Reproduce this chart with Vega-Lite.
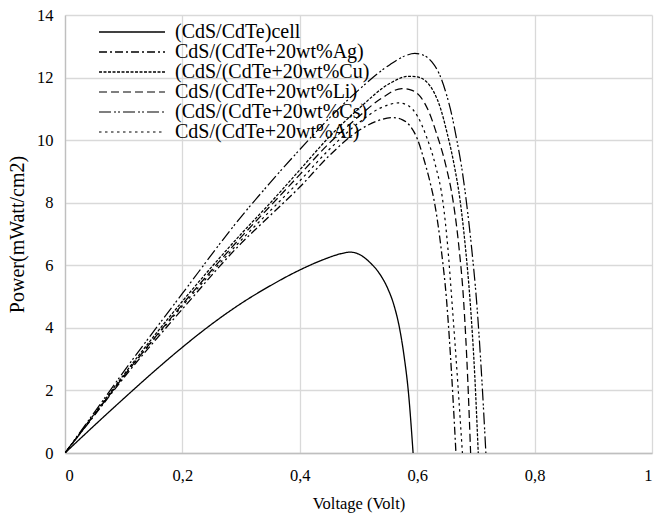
{
  "$schema": "https://vega.github.io/schema/vega-lite/v6.json",
  "width": 587,
  "height": 438,
  "autosize": {"type": "none"},
  "padding": {"left": 65, "top": 15, "right": 5, "bottom": 73},
  "config": {
    "font": "'Liberation Serif', 'DejaVu Serif', serif",
    "view": {"stroke": null},
    "text": {"font": "'Liberation Serif', 'DejaVu Serif', serif"},
    "axis": {
      "labelFont": "'Liberation Serif', 'DejaVu Serif', serif",
      "titleFont": "'Liberation Serif', 'DejaVu Serif', serif",
      "labelFontSize": 16.5,
      "titleFontSize": 16.5,
      "titleFontWeight": "normal",
      "labelColor": "#000000",
      "titleColor": "#000000",
      "gridColor": "#d9d9d9",
      "gridWidth": 1.3,
      "domainColor": "#bfbfbf",
      "domainWidth": 1.3,
      "ticks": false
    },
    "legend": {
      "labelFont": "'Liberation Serif', 'DejaVu Serif', serif",
      "labelFontSize": 20,
      "labelLimit": 0,
      "labelColor": "#000000"
    }
  },
  "data": {
    "values": [
      {"s": "(CdS/CdTe)cell", "v": 0, "p": 0},
      {"s": "(CdS/CdTe)cell", "v": 0.05, "p": 0.88},
      {"s": "(CdS/CdTe)cell", "v": 0.1, "p": 1.74},
      {"s": "(CdS/CdTe)cell", "v": 0.15, "p": 2.58},
      {"s": "(CdS/CdTe)cell", "v": 0.2, "p": 3.38},
      {"s": "(CdS/CdTe)cell", "v": 0.25, "p": 4.12},
      {"s": "(CdS/CdTe)cell", "v": 0.3, "p": 4.78},
      {"s": "(CdS/CdTe)cell", "v": 0.35, "p": 5.35},
      {"s": "(CdS/CdTe)cell", "v": 0.4, "p": 5.85},
      {"s": "(CdS/CdTe)cell", "v": 0.44, "p": 6.18},
      {"s": "(CdS/CdTe)cell", "v": 0.47, "p": 6.37},
      {"s": "(CdS/CdTe)cell", "v": 0.486, "p": 6.42},
      {"s": "(CdS/CdTe)cell", "v": 0.5, "p": 6.36},
      {"s": "(CdS/CdTe)cell", "v": 0.52, "p": 6.08},
      {"s": "(CdS/CdTe)cell", "v": 0.537, "p": 5.7},
      {"s": "(CdS/CdTe)cell", "v": 0.55, "p": 5.25},
      {"s": "(CdS/CdTe)cell", "v": 0.56, "p": 4.75},
      {"s": "(CdS/CdTe)cell", "v": 0.57, "p": 3.98},
      {"s": "(CdS/CdTe)cell", "v": 0.578, "p": 3.05},
      {"s": "(CdS/CdTe)cell", "v": 0.585, "p": 1.95},
      {"s": "(CdS/CdTe)cell", "v": 0.593, "p": 0},

      {"s": "CdS/(CdTe+20wt%Ag)", "v": 0, "p": 0},
      {"s": "CdS/(CdTe+20wt%Ag)", "v": 0.05, "p": 1.2},
      {"s": "CdS/(CdTe+20wt%Ag)", "v": 0.1, "p": 2.4},
      {"s": "CdS/(CdTe+20wt%Ag)", "v": 0.2, "p": 4.6},
      {"s": "CdS/(CdTe+20wt%Ag)", "v": 0.3, "p": 6.7},
      {"s": "CdS/(CdTe+20wt%Ag)", "v": 0.35, "p": 7.6},
      {"s": "CdS/(CdTe+20wt%Ag)", "v": 0.4, "p": 8.5},
      {"s": "CdS/(CdTe+20wt%Ag)", "v": 0.45, "p": 9.5},
      {"s": "CdS/(CdTe+20wt%Ag)", "v": 0.5, "p": 10.3},
      {"s": "CdS/(CdTe+20wt%Ag)", "v": 0.53, "p": 10.6},
      {"s": "CdS/(CdTe+20wt%Ag)", "v": 0.559, "p": 10.72},
      {"s": "CdS/(CdTe+20wt%Ag)", "v": 0.575, "p": 10.65},
      {"s": "CdS/(CdTe+20wt%Ag)", "v": 0.588, "p": 10.45},
      {"s": "CdS/(CdTe+20wt%Ag)", "v": 0.6, "p": 10.05},
      {"s": "CdS/(CdTe+20wt%Ag)", "v": 0.612, "p": 9.35},
      {"s": "CdS/(CdTe+20wt%Ag)", "v": 0.622, "p": 8.65},
      {"s": "CdS/(CdTe+20wt%Ag)", "v": 0.63, "p": 7.95},
      {"s": "CdS/(CdTe+20wt%Ag)", "v": 0.641, "p": 6.5},
      {"s": "CdS/(CdTe+20wt%Ag)", "v": 0.65, "p": 4.89},
      {"s": "CdS/(CdTe+20wt%Ag)", "v": 0.659, "p": 2.4},
      {"s": "CdS/(CdTe+20wt%Ag)", "v": 0.666, "p": 0},

      {"s": "(CdS/(CdTe+20wt%Cu)", "v": 0, "p": 0},
      {"s": "(CdS/(CdTe+20wt%Cu)", "v": 0.05, "p": 1.25},
      {"s": "(CdS/(CdTe+20wt%Cu)", "v": 0.1, "p": 2.5},
      {"s": "(CdS/(CdTe+20wt%Cu)", "v": 0.2, "p": 4.85},
      {"s": "(CdS/(CdTe+20wt%Cu)", "v": 0.3, "p": 7.0},
      {"s": "(CdS/(CdTe+20wt%Cu)", "v": 0.35, "p": 8.0},
      {"s": "(CdS/(CdTe+20wt%Cu)", "v": 0.4, "p": 9.05},
      {"s": "(CdS/(CdTe+20wt%Cu)", "v": 0.45, "p": 10.1},
      {"s": "(CdS/(CdTe+20wt%Cu)", "v": 0.5, "p": 11.0},
      {"s": "(CdS/(CdTe+20wt%Cu)", "v": 0.554, "p": 11.82},
      {"s": "(CdS/(CdTe+20wt%Cu)", "v": 0.585, "p": 12.04},
      {"s": "(CdS/(CdTe+20wt%Cu)", "v": 0.6, "p": 12.02},
      {"s": "(CdS/(CdTe+20wt%Cu)", "v": 0.615, "p": 11.88},
      {"s": "(CdS/(CdTe+20wt%Cu)", "v": 0.628, "p": 11.55},
      {"s": "(CdS/(CdTe+20wt%Cu)", "v": 0.64, "p": 11.0},
      {"s": "(CdS/(CdTe+20wt%Cu)", "v": 0.65, "p": 10.3},
      {"s": "(CdS/(CdTe+20wt%Cu)", "v": 0.662, "p": 9.3},
      {"s": "(CdS/(CdTe+20wt%Cu)", "v": 0.673, "p": 8.08},
      {"s": "(CdS/(CdTe+20wt%Cu)", "v": 0.682, "p": 6.6},
      {"s": "(CdS/(CdTe+20wt%Cu)", "v": 0.69, "p": 4.89},
      {"s": "(CdS/(CdTe+20wt%Cu)", "v": 0.698, "p": 2.5},
      {"s": "(CdS/(CdTe+20wt%Cu)", "v": 0.704, "p": 0},

      {"s": "CdS/(CdTe+20wt%Li)", "v": 0, "p": 0},
      {"s": "CdS/(CdTe+20wt%Li)", "v": 0.05, "p": 1.22},
      {"s": "CdS/(CdTe+20wt%Li)", "v": 0.1, "p": 2.45},
      {"s": "CdS/(CdTe+20wt%Li)", "v": 0.2, "p": 4.75},
      {"s": "CdS/(CdTe+20wt%Li)", "v": 0.3, "p": 6.9},
      {"s": "CdS/(CdTe+20wt%Li)", "v": 0.35, "p": 7.9},
      {"s": "CdS/(CdTe+20wt%Li)", "v": 0.4, "p": 8.9},
      {"s": "CdS/(CdTe+20wt%Li)", "v": 0.45, "p": 9.9},
      {"s": "CdS/(CdTe+20wt%Li)", "v": 0.5, "p": 10.75},
      {"s": "CdS/(CdTe+20wt%Li)", "v": 0.54, "p": 11.35},
      {"s": "CdS/(CdTe+20wt%Li)", "v": 0.574, "p": 11.65},
      {"s": "CdS/(CdTe+20wt%Li)", "v": 0.59, "p": 11.6},
      {"s": "CdS/(CdTe+20wt%Li)", "v": 0.605, "p": 11.4},
      {"s": "CdS/(CdTe+20wt%Li)", "v": 0.62, "p": 10.9},
      {"s": "CdS/(CdTe+20wt%Li)", "v": 0.633, "p": 10.21},
      {"s": "CdS/(CdTe+20wt%Li)", "v": 0.648, "p": 9.25},
      {"s": "CdS/(CdTe+20wt%Li)", "v": 0.662, "p": 7.95},
      {"s": "CdS/(CdTe+20wt%Li)", "v": 0.671, "p": 6.6},
      {"s": "CdS/(CdTe+20wt%Li)", "v": 0.679, "p": 4.89},
      {"s": "CdS/(CdTe+20wt%Li)", "v": 0.686, "p": 2.4},
      {"s": "CdS/(CdTe+20wt%Li)", "v": 0.691, "p": 0},

      {"s": "(CdS/(CdTe+20wt%Cs)", "v": 0, "p": 0},
      {"s": "(CdS/(CdTe+20wt%Cs)", "v": 0.05, "p": 1.3},
      {"s": "(CdS/(CdTe+20wt%Cs)", "v": 0.1, "p": 2.6},
      {"s": "(CdS/(CdTe+20wt%Cs)", "v": 0.2, "p": 5.1},
      {"s": "(CdS/(CdTe+20wt%Cs)", "v": 0.3, "p": 7.55},
      {"s": "(CdS/(CdTe+20wt%Cs)", "v": 0.35, "p": 8.65},
      {"s": "(CdS/(CdTe+20wt%Cs)", "v": 0.4, "p": 9.7},
      {"s": "(CdS/(CdTe+20wt%Cs)", "v": 0.45, "p": 10.7},
      {"s": "(CdS/(CdTe+20wt%Cs)", "v": 0.5, "p": 11.6},
      {"s": "(CdS/(CdTe+20wt%Cs)", "v": 0.554, "p": 12.42},
      {"s": "(CdS/(CdTe+20wt%Cs)", "v": 0.58, "p": 12.7},
      {"s": "(CdS/(CdTe+20wt%Cs)", "v": 0.596, "p": 12.77},
      {"s": "(CdS/(CdTe+20wt%Cs)", "v": 0.61, "p": 12.72},
      {"s": "(CdS/(CdTe+20wt%Cs)", "v": 0.625, "p": 12.5},
      {"s": "(CdS/(CdTe+20wt%Cs)", "v": 0.638, "p": 12.1},
      {"s": "(CdS/(CdTe+20wt%Cs)", "v": 0.65, "p": 11.45},
      {"s": "(CdS/(CdTe+20wt%Cs)", "v": 0.659, "p": 10.8},
      {"s": "(CdS/(CdTe+20wt%Cs)", "v": 0.667, "p": 10.05},
      {"s": "(CdS/(CdTe+20wt%Cs)", "v": 0.676, "p": 9.1},
      {"s": "(CdS/(CdTe+20wt%Cs)", "v": 0.684, "p": 8.0},
      {"s": "(CdS/(CdTe+20wt%Cs)", "v": 0.693, "p": 6.5},
      {"s": "(CdS/(CdTe+20wt%Cs)", "v": 0.701, "p": 4.89},
      {"s": "(CdS/(CdTe+20wt%Cs)", "v": 0.709, "p": 2.7},
      {"s": "(CdS/(CdTe+20wt%Cs)", "v": 0.717, "p": 0},

      {"s": "CdS/(CdTe+20wt%Al)", "v": 0, "p": 0},
      {"s": "CdS/(CdTe+20wt%Al)", "v": 0.05, "p": 1.22},
      {"s": "CdS/(CdTe+20wt%Al)", "v": 0.1, "p": 2.45},
      {"s": "CdS/(CdTe+20wt%Al)", "v": 0.2, "p": 4.7},
      {"s": "CdS/(CdTe+20wt%Al)", "v": 0.3, "p": 6.8},
      {"s": "CdS/(CdTe+20wt%Al)", "v": 0.35, "p": 7.75},
      {"s": "CdS/(CdTe+20wt%Al)", "v": 0.4, "p": 8.7},
      {"s": "CdS/(CdTe+20wt%Al)", "v": 0.45, "p": 9.7},
      {"s": "CdS/(CdTe+20wt%Al)", "v": 0.5, "p": 10.55},
      {"s": "CdS/(CdTe+20wt%Al)", "v": 0.54, "p": 11.05},
      {"s": "CdS/(CdTe+20wt%Al)", "v": 0.568, "p": 11.19},
      {"s": "CdS/(CdTe+20wt%Al)", "v": 0.585, "p": 11.1},
      {"s": "CdS/(CdTe+20wt%Al)", "v": 0.6, "p": 10.78},
      {"s": "CdS/(CdTe+20wt%Al)", "v": 0.616, "p": 10.1},
      {"s": "CdS/(CdTe+20wt%Al)", "v": 0.631, "p": 9.2},
      {"s": "CdS/(CdTe+20wt%Al)", "v": 0.644, "p": 8.0},
      {"s": "CdS/(CdTe+20wt%Al)", "v": 0.652, "p": 6.6},
      {"s": "CdS/(CdTe+20wt%Al)", "v": 0.659, "p": 4.89},
      {"s": "CdS/(CdTe+20wt%Al)", "v": 0.67, "p": 2.0},
      {"s": "CdS/(CdTe+20wt%Al)", "v": 0.677, "p": 0}
    ]
  },
  "mark": {"type": "line", "interpolate": "monotone", "color": "#000000", "clip": true},
  "encoding": {
    "x": {
      "field": "v", "type": "quantitative",
      "scale": {"domain": [0, 1], "nice": false},
      "axis": {
        "title": "Voltage (Volt)",
        "labelFont": "'Liberation Serif', 'DejaVu Serif', serif",
        "titleFont": "'Liberation Serif', 'DejaVu Serif', serif",
        "values": [0, 0.2, 0.4, 0.6, 0.8, 1],
        "labelExpr": "replace(format(datum.value, '.1~f'), '.', ',')",
        "labelPadding": 14,
        "titlePadding": 12
      }
    },
    "y": {
      "field": "p", "type": "quantitative",
      "scale": {"domain": [0, 14], "nice": false},
      "axis": {
        "title": "Power(mWatt/cm2)",
        "labelFont": "'Liberation Serif', 'DejaVu Serif', serif",
        "titleFont": "'Liberation Serif', 'DejaVu Serif', serif",
        "titleFontSize": 20,
        "values": [0, 2, 4, 6, 8, 10, 12, 14],
        "labelPadding": 12,
        "titlePadding": 9
      }
    },
    "detail": {"field": "s"},
    "strokeDash": {
      "field": "s", "type": "nominal",
      "scale": {
        "domain": ["(CdS/CdTe)cell", "CdS/(CdTe+20wt%Ag)", "(CdS/(CdTe+20wt%Cu)", "CdS/(CdTe+20wt%Li)", "(CdS/(CdTe+20wt%Cs)", "CdS/(CdTe+20wt%Al)"],
        "range": [[1, 0], [8, 3, 2, 3], [3, 1.5], [8, 4], [12, 3, 2, 2, 2, 3], [2.5, 3.5]]
      },
      "legend": {
        "title": null,
        "orient": "none",
        "legendX": 57,
        "legendY": 7,
        "symbolType": "M-4,0H4",
        "symbolSize": 272,
        "symbolStrokeColor": "#000000",
        "symbolStrokeWidth": 1.3,
        "labelOffset": 33,
        "labelLimit": 0,
        "rowPadding": -0.8
      }
    },
    "strokeWidth": {
      "field": "s", "type": "nominal",
      "scale": {
        "domain": ["(CdS/CdTe)cell", "CdS/(CdTe+20wt%Ag)", "(CdS/(CdTe+20wt%Cu)", "CdS/(CdTe+20wt%Li)", "(CdS/(CdTe+20wt%Cs)", "CdS/(CdTe+20wt%Al)"],
        "range": [1.3, 1.2, 1.1, 1.2, 1.2, 2.6]
      },
      "legend": null
    }
  }
}
